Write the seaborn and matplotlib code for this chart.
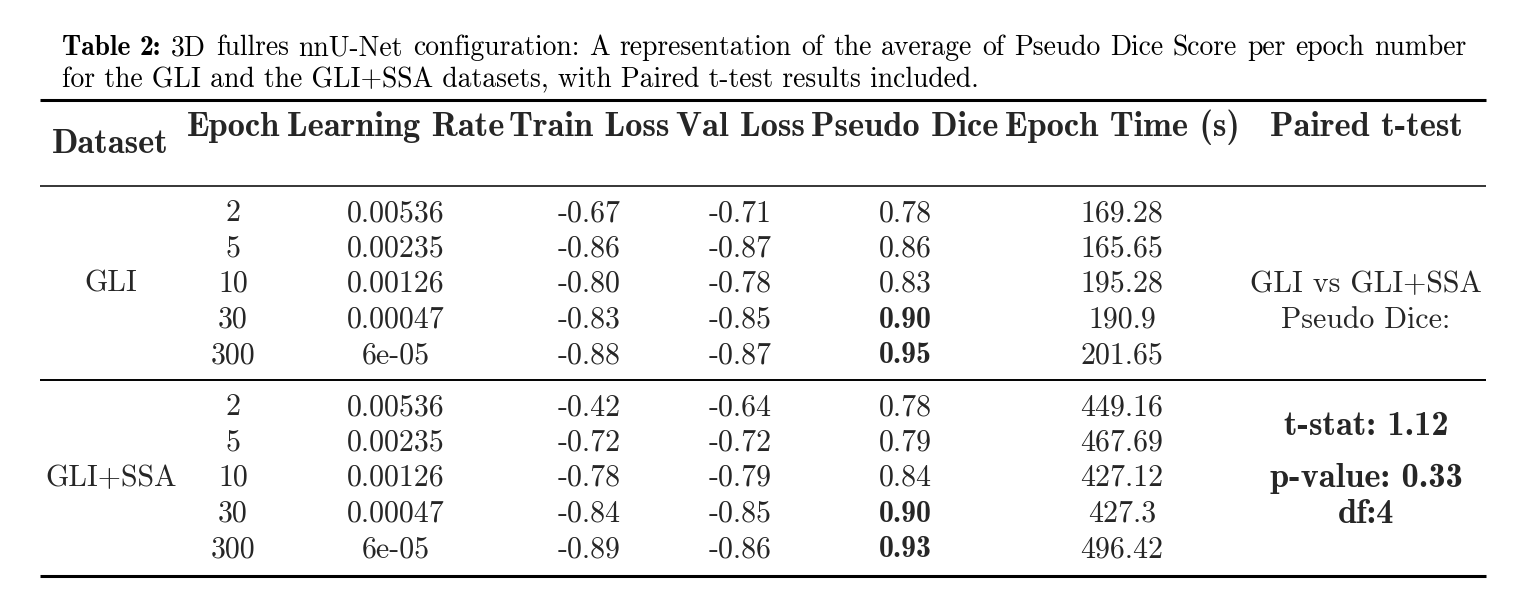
import pandas as pd
import matplotlib.pyplot as plt
import seaborn as sns

# ---- table data ----
datasets = ["GLI", "GLI+SSA"]
epochs = ["2", "5", "10", "30", "300"]
learning_rates = ["0.00536", "0.00235", "0.00126", "0.00047", "6e-05"]
train_loss_gli = ["-0.67", "-0.86", "-0.80", "-0.83", "-0.88"]
val_loss_gli = ["-0.71", "-0.87", "-0.78", "-0.85", "-0.87"]
dice_gli = ["0.78", "0.86", "0.83", "0.90", "0.95"]
time_gli = ["169.28", "165.65", "195.28", "190.9", "201.65"]
train_loss_ssa = ["-0.42", "-0.72", "-0.78", "-0.84", "-0.89"]
val_loss_ssa = ["-0.64", "-0.72", "-0.79", "-0.85", "-0.86"]
dice_ssa = ["0.78", "0.79", "0.84", "0.90", "0.93"]
time_ssa = ["449.16", "467.69", "427.12", "427.3", "496.42"]
bold_dice = [False, False, False, True, True]

headers = ["Epoch", "Learning Rate", "Train Loss", "Val Loss", "Pseudo Dice", "Epoch Time (s)"]
caption_bold = "Table 2:"
caption_1 = ("3D fullres nnU-Net configuration: A representation of the average of "
             "Pseudo Dice Score per epoch number")
caption_2 = "for the GLI and the GLI+SSA datasets, with Paired t-test results included."

df = pd.DataFrame({
    "Dataset": [datasets[0]] * 5 + [datasets[1]] * 5,
    "Epoch": epochs * 2,
    "Learning Rate": learning_rates * 2,
    "Train Loss": train_loss_gli + train_loss_ssa,
    "Val Loss": val_loss_gli + val_loss_ssa,
    "Pseudo Dice": dice_gli + dice_ssa,
    "Epoch Time (s)": time_gli + time_ssa,
    "bold": bold_dice * 2,
})

sns.set_theme(style="white")
plt.rcParams["font.family"] = ["cmr10", "DejaVu Serif"]
plt.rcParams["axes.unicode_minus"] = False

W, H = 1522, 607
fig = plt.figure(figsize=(W / 100, H / 100), dpi=100)
ax = fig.add_axes([0, 0, 1, 1])
ax.set_xlim(0, W)
ax.set_ylim(H, 0)
ax.axis("off")

REG = ["cmr10", "DejaVu Serif"]
BOLD = ["cmb10", "DejaVu Serif"]
fs = 21.5      # body
hfs = 24.8     # bold header / t-test results
cap_fs = 19.9  # caption

# ---- caption (first line justified) ----
fig.canvas.draw()
renderer = fig.canvas.get_renderer()


def text_width(s, family):
    t = ax.text(0, 0, s, fontsize=cap_fs, family=family)
    w = t.get_window_extent(renderer).width
    t.remove()
    return w


words = [(w, BOLD) for w in caption_bold.split()] + [(w, REG) for w in caption_1.split()]
x0, x1 = 62, 1466
widths = [text_width(w, f) for w, f in words]
gap = (x1 - x0 - sum(widths)) / (len(words) - 1)
x = x0
for (w, f), wd in zip(words, widths):
    ax.text(x, 55, w, fontsize=cap_fs, family=f, va="baseline", ha="left", color="black")
    x += wd + gap
ax.text(x0, 87, caption_2, fontsize=cap_fs, family=REG, va="baseline", ha="left", color="black")

# ---- rules ----
ax.hlines(100, 40, 1486, color="black", lw=2.2)
ax.hlines(186, 40, 1486, color="black", lw=1.1)
ax.hlines(380, 40, 1486, color="black", lw=1.4)
ax.hlines(576, 40, 1486, color="black", lw=2.2)

# ---- header ----
col_x = [233, 396, 589, 740, 905, 1122]
ax.text(110, 153, "Dataset", fontsize=hfs, family=BOLD, ha="center", va="baseline")
for cx, h in zip(col_x, headers):
    ax.text(cx, 136, h, fontsize=hfs, family=BOLD, ha="center", va="baseline")
ax.text(1366, 136, "Paired t-test", fontsize=hfs, family=BOLD, ha="center", va="baseline")

# ---- body ----
group_top = {"GLI": 212, "GLI+SSA": 406}
step = 35.5
for name, grp in df.groupby("Dataset", sort=False):
    y0 = group_top[name]
    ax.text(111, y0 + 2 * step + 9, name, fontsize=fs, family=REG, ha="center", va="baseline")
    for i, (_, row) in enumerate(grp.iterrows()):
        yb = y0 + i * step + 9
        for cx, h in zip(col_x, headers):
            fam = BOLD if (h == "Pseudo Dice" and row["bold"]) else REG
            ax.text(cx, yb, row[h], fontsize=fs, family=fam, ha="center", va="baseline")

# ---- paired t-test column ----
ax.text(1366, 292, "GLI vs GLI+SSA", fontsize=fs, family=REG, ha="center", va="baseline")
ax.text(1366, 328, "Pseudo Dice:", fontsize=fs, family=REG, ha="center", va="baseline")
ax.text(1366, 435, "t-stat: 1.12", fontsize=hfs, family=BOLD, ha="center", va="baseline")
ax.text(1366, 487, "p-value: 0.33", fontsize=hfs, family=BOLD, ha="center", va="baseline")
ax.text(1366, 523, "df:4", fontsize=hfs, family=BOLD, ha="center", va="baseline")

fig.savefig("out.png", dpi=100, facecolor="white")
plt.close(fig)
